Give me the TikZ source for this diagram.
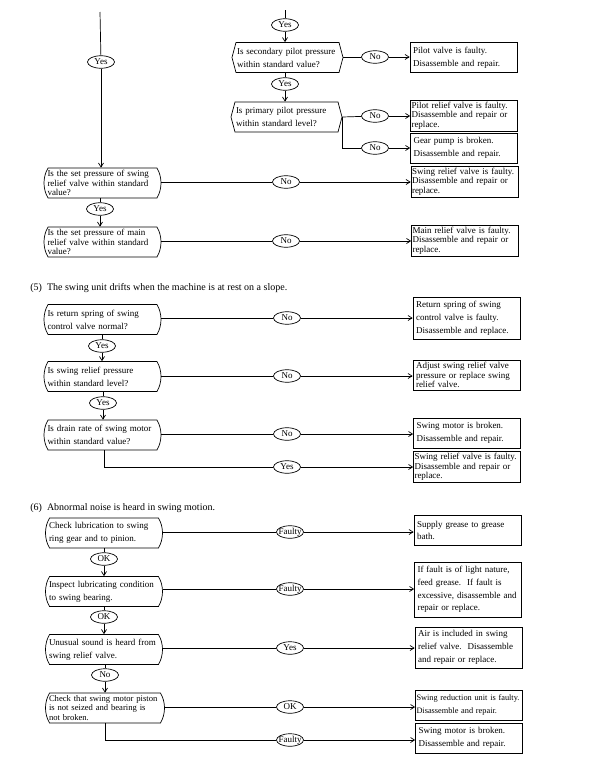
\documentclass[tikz,border=0pt]{standalone}
\usepackage{fontspec}
\setmainfont{Liberation Serif}
\usetikzlibrary{shapes.geometric,shapes.misc,shapes.symbols,arrows.meta}

\begin{document}
\begin{tikzpicture}[x=1pt, y=-1pt, line width=0.7pt]

% Define styles
\tikzstyle{question} = [rounded rectangle, rounded rectangle arc length=60, draw=black, minimum width=119, minimum height=30, text width=110, inner xsep=1pt, inner ysep=2pt, align=left, font=\fontsize{9}{12.8}\selectfont]
\tikzstyle{pquestion} = [signal, signal to=east and west, signal pointer angle=150, draw=black, minimum height=30, text width=101, inner xsep=1pt, inner ysep=2pt, align=left, font=\fontsize{9}{13}\selectfont]
\tikzstyle{remedy} = [rectangle, draw=black, minimum width=107, minimum height=30, text width=101, inner xsep=3pt, inner ysep=2pt, align=left, font=\fontsize{9}{12.8}\selectfont]
\tikzstyle{wide} = [text width=105, inner xsep=1pt]
\tikzstyle{tight} = [font=\fontsize{9}{9.4}\selectfont]
\tikzstyle{answer} = [ellipse, draw=black, minimum width=27, minimum height=12.5, inner xsep=-4pt, inner ysep=0pt, font=\fontsize{9}{9}\selectfont]
\tikzstyle{heading} = [anchor=west, inner sep=0pt, font=\fontsize{10}{12}\selectfont]
\tikzstyle{arr} = [-{Straight Barb[length=4pt,width=5pt]}]

\useasboundingbox (0,0) rectangle (608,771);

% Pilot pressure checks
\node [pquestion] (sec) at (287.5,57.5) {Is secondary pilot pressure\\ within standard value?};
\node [pquestion] (pri) at (286.5,117) {Is primary pilot pressure\\ within standard level?};
\node [answer] (sec_yes) at (285,25) {Yes};
\node [answer] (sec_no) at (375,57) {No};
\node [answer] (pri_yes) at (285,84) {Yes};
\node [answer] (pri_no) at (375,116) {No};
\node [answer] (gear_no) at (375,148) {No};
\node [remedy] (pilot_valve) at (463.5,57.5) {Pilot valve is faulty.\\ Disassemble and repair.};
\node [remedy, wide, tight, minimum height=31] (pilot_relief) at (464,115.5) {Pilot relief valve is faulty.\\ Disassemble and repair or\\ replace.};
\node [remedy] (gear_pump) at (464,148) {Gear pump is broken.\\ Disassemble and repair.};

% Relief pressure checks
\node [question, tight] (swing_set) at (102.5,183) {Is the set pressure of swing\\ relief valve within standard\\ value?};
\node [question, tight] (main_set) at (102.5,242) {Is the set pressure of main\\ relief valve within standard\\ value?};
\node [answer] (swing_yes) at (101,62) {Yes};
\node [answer] (swing_no) at (286,182) {No};
\node [answer] (main_yes) at (100,209) {Yes};
\node [answer] (main_no) at (286,241) {No};
\node [remedy, wide, tight] (swing_relief) at (464.5,181.5) {Swing relief valve is faulty.\\ Disassemble and repair or\\ replace.};
\node [remedy, wide, tight, minimum height=31] (main_relief) at (465,240.5) {Main relief valve is faulty.\\ Disassemble and repair or\\ replace.};

% (5) drift on a slope
\node [heading] (head5) at (30,288) {(5)\ \ The swing unit drifts when the machine is at rest on a slope.};
\node [question] (spring) at (102.5,319.5) {Is return spring of swing\\ control valve normal?};
\node [question] (relief_p) at (102.5,376.5) {Is swing relief pressure\\ within standard level?};
\node [question] (drain) at (102.5,435) {Is drain rate of swing motor\\ within standard value?};
\node [answer] (spring_no) at (287,318) {No};
\node [answer] (spring_yes) at (102,346) {Yes};
\node [answer] (relief_no) at (287,376) {No};
\node [answer] (relief_yes) at (103,403) {Yes};
\node [answer] (drain_no) at (287,434) {No};
\node [answer] (drain_yes) at (287,467) {Yes};
\node [remedy, minimum height=42] (spring_fix) at (466.5,318) {Return spring of swing\\ control valve is faulty.\\ Disassemble and replace.};
\node [remedy, tight] (relief_fix) at (466.5,375) {Adjust swing relief valve\\ pressure or replace swing\\ relief valve.};
\node [remedy] (motor_fix) at (467,433) {Swing motor is broken.\\ Disassemble and repair.};
\node [remedy, wide, tight] (valve_fix) at (467,467) {Swing relief valve is faulty.\\ Disassemble and repair or\\ replace.};

% (6) abnormal noise
\node [heading] (head6) at (30,508) {(6)\ \ Abnormal noise is heard in swing motion.};
\node [question] (lube_gear) at (104,533) {Check lubrication to swing\\ ring gear and to pinion.};
\node [question] (lube_bear) at (104,591.5) {Inspect lubricating condition\\ to swing bearing.};
\node [question] (sound) at (104,649.5) {Unusual sound is heard from\\ swing relief valve.};
\node [question, text width=112, inner xsep=0pt, font=\fontsize{8.6}{9.2}\selectfont] (piston) at (105,708) {Check that swing motor piston\\ is not seized and bearing is\\ not broken.};
\node [answer] (gear_faulty) at (290,532) {Faulty};
\node [answer] (gear_ok) at (104,559) {OK};
\node [answer] (bear_faulty) at (290,589) {Faulty};
\node [answer] (bear_ok) at (104,617) {OK};
\node [answer] (sound_yes) at (290,648) {Yes};
\node [answer] (sound_no) at (105,675) {No};
\node [answer] (piston_ok) at (290,707) {OK};
\node [answer] (piston_faulty) at (290,740) {Faulty};
\node [remedy] (grease) at (467.5,530.5) {Supply grease to grease\\ bath.};
\node [remedy, minimum height=55] (feed) at (468,589.5) {If fault is of light nature,\\ feed grease.\ \ If fault is\\ excessive, disassemble and\\ repair or replace.};
\node [remedy, minimum height=41] (air) at (468.5,647.5) {Air is included in swing\\ relief valve.\ \ Disassemble\\ and repair or replace.};
\node [remedy, wide, font=\fontsize{8.3}{12.8}\selectfont] (reduction) at (469,705) {Swing reduction unit is faulty.\\ Disassemble and repair.};
\node [remedy] (motor_broken) at (469,738) {Swing motor is broken.\\ Disassemble and repair.};

% Connectors, pilot side
\coordinate (top_right) at (285,10);
\draw (top_right) -- (sec_yes);
\draw [arr] (sec_yes) -- (sec_yes |- sec.north);
\draw (sec_no -| sec.east) -- (sec_no);
\draw [arr] (sec_no) -- (sec_no -| pilot_valve.west);
\draw (pri_yes |- sec.south) -- (pri_yes);
\draw [arr] (pri_yes) -- (pri_yes |- pri.north);
\draw (pri.east) -- (pri_no);
\draw [arr] (pri_no) -- (pri_no -| pilot_relief.west);
\draw (pri.east) |- (gear_no);
\draw [arr] (gear_no) -- (gear_no -| gear_pump.west);

% Connectors, relief side
\coordinate (top_left) at (100,12);
\draw (top_left) -- (swing_yes);
\draw [arr] (swing_yes) -- (swing_yes |- swing_set.north);
\draw (swing_no -| swing_set.east) -- (swing_no);
\draw [arr] (swing_no) -- (swing_no -| swing_relief.west);
\draw (main_yes |- swing_set.south) -- (main_yes);
\draw [arr] (main_yes) -- (main_yes |- main_set.north);
\draw (main_no -| main_set.east) -- (main_no);
\draw [arr] (main_no) -- (main_no -| main_relief.west);

% Connectors (5)
\draw (spring_no -| spring.east) -- (spring_no);
\draw [arr] (spring_no) -- (spring_no -| spring_fix.west);
\draw (spring_yes |- spring.south) -- (spring_yes);
\draw [arr] (spring_yes) -- (spring_yes |- relief_p.north);
\draw (relief_no -| relief_p.east) -- (relief_no);
\draw [arr] (relief_no) -- (relief_no -| relief_fix.west);
\draw (relief_yes |- relief_p.south) -- (relief_yes);
\draw [arr] (relief_yes) -- (relief_yes |- drain.north);
\draw (drain_no -| drain.east) -- (drain_no);
\draw [arr] (drain_no) -- (drain_no -| motor_fix.west);
\draw ([xshift=1.5pt]drain.south) |- (drain_yes);
\draw [arr] (drain_yes) -- (drain_yes -| valve_fix.west);

% Connectors (6)
\draw (gear_faulty -| lube_gear.east) -- (gear_faulty);
\draw [arr] (gear_faulty) -- (gear_faulty -| grease.west);
\draw (gear_ok |- lube_gear.south) -- (gear_ok);
\draw [arr] (gear_ok) -- (gear_ok |- lube_bear.north);
\draw (bear_faulty -| lube_bear.east) -- (bear_faulty);
\draw [arr] (bear_faulty) -- (bear_faulty -| feed.west);
\draw (bear_ok |- lube_bear.south) -- (bear_ok);
\draw [arr] (bear_ok) -- (bear_ok |- sound.north);
\draw (sound_yes -| sound.east) -- (sound_yes);
\draw [arr] (sound_yes) -- (sound_yes -| air.west);
\draw (sound_no |- sound.south) -- (sound_no);
\draw [arr] (sound_no) -- (sound_no |- piston.north);
\draw (piston_ok -| piston.east) -- (piston_ok);
\draw [arr] (piston_ok) -- (piston_ok -| reduction.west);
\draw (piston.south) |- (piston_faulty);
\draw [arr] (piston_faulty) -- (piston_faulty -| motor_broken.west);

\end{tikzpicture}
\end{document}
